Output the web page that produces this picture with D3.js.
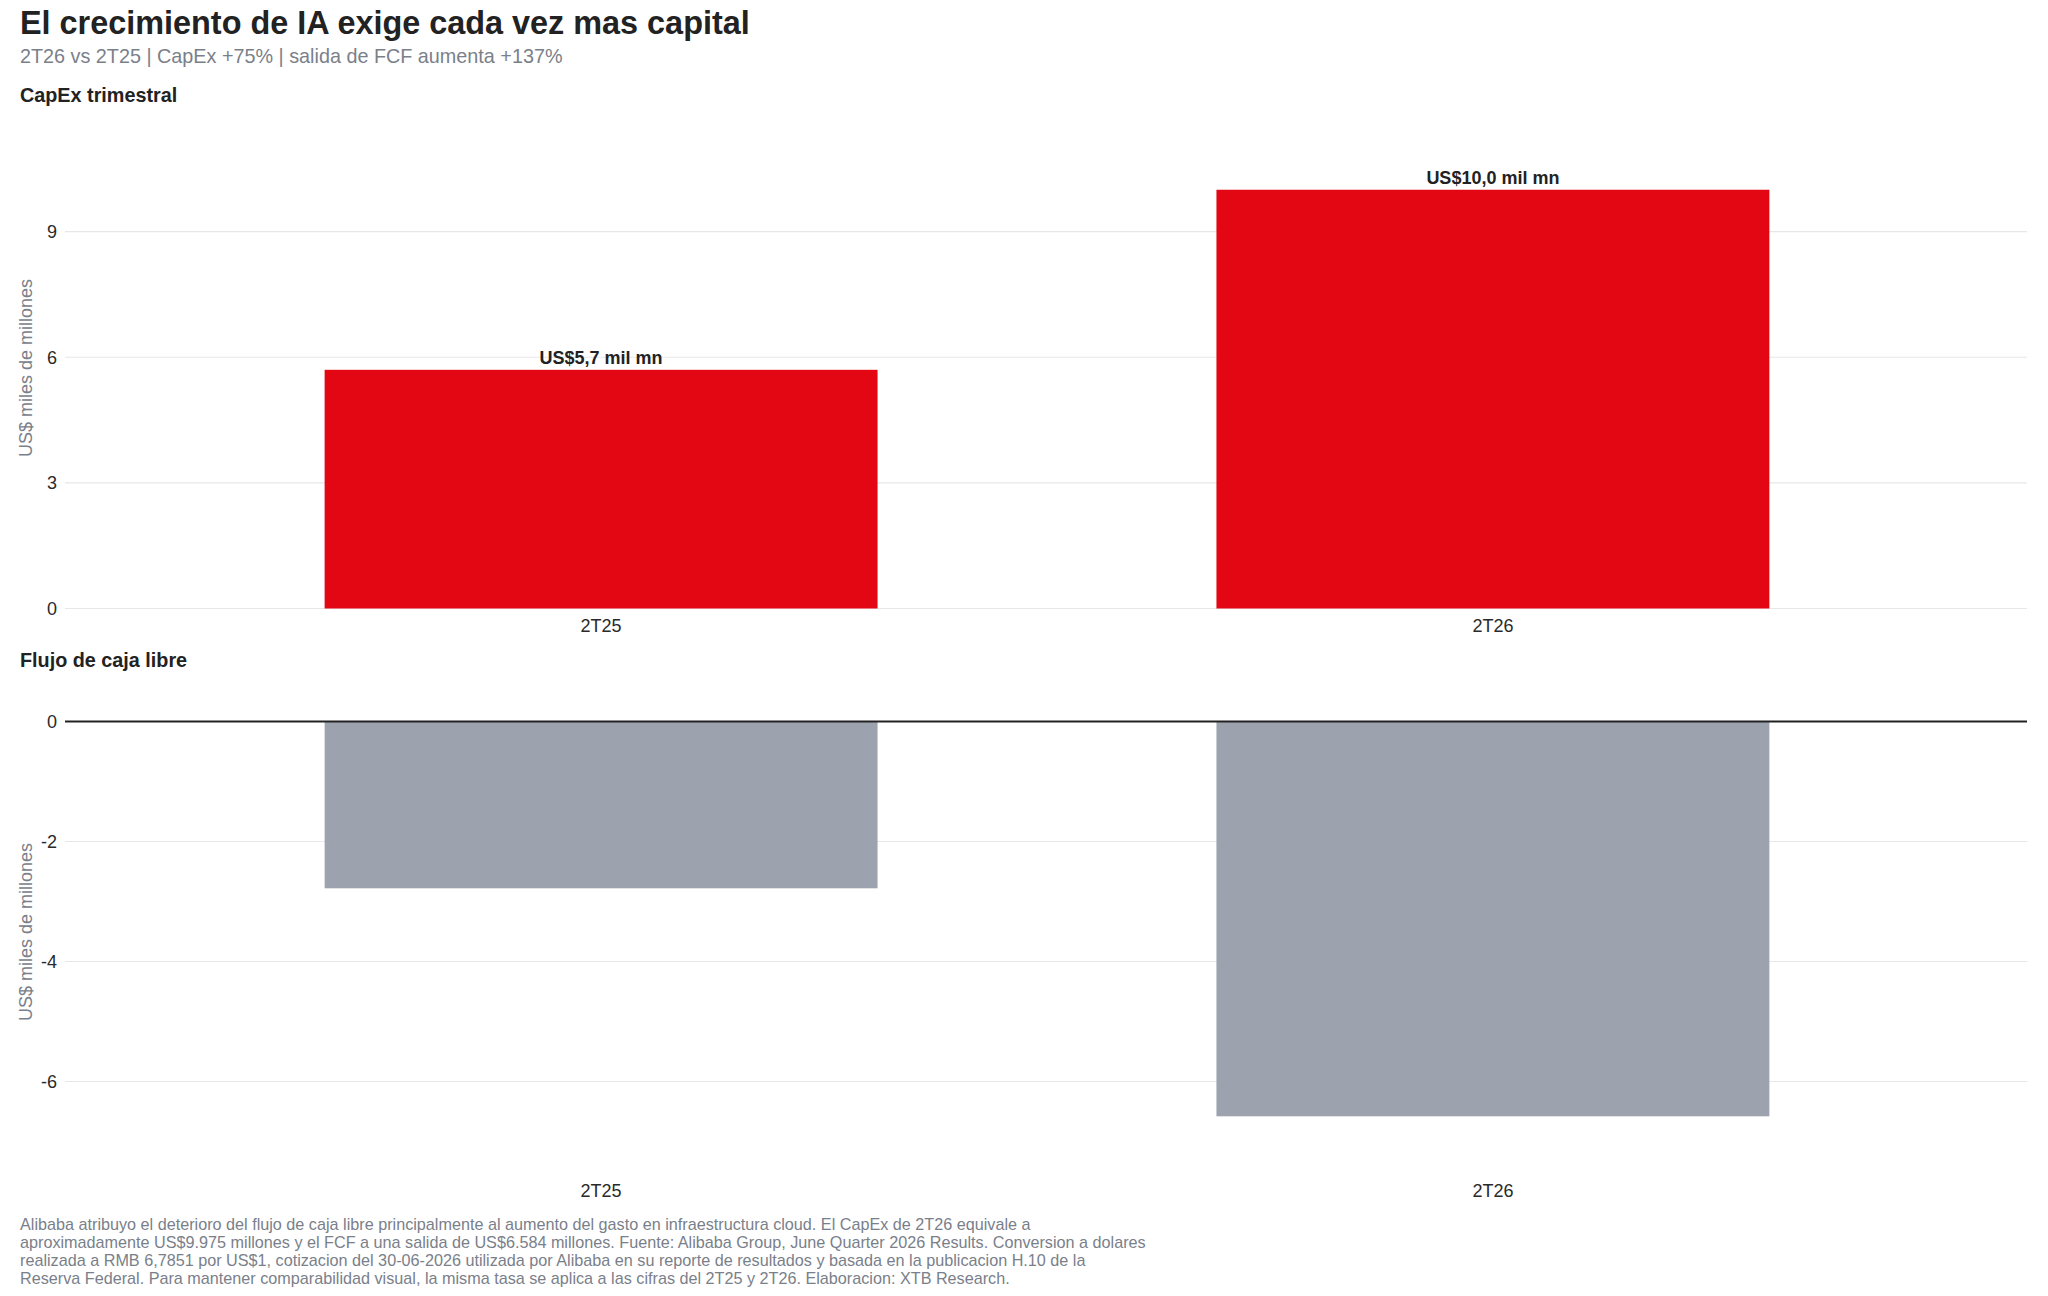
<!DOCTYPE html>
<html>
<head>
<meta charset="utf-8">
<script src="https://cdn.jsdelivr.net/npm/d3@7"></script>
<style>
  body { margin: 0; background: #fff; }
  svg { display: block; font-family: "Liberation Sans", Arial, sans-serif; }
  .grid line { stroke: #e6e7ea; stroke-width: 1.2; }
  .yaxis text, .xaxis text { fill: #2a2a2a; font-size: 18px; }
  .axistitle { fill: #7a808a; font-size: 18px; }
</style>
</head>
<body>
<div id="chart"></div>
<script>
const categories = ["2T25", "2T26"];
const capexValues = [5.7, 10.0];
const capexLabels = ["US$5,7 mil mn", "US$10,0 mil mn"];
const fcfValues = [-2.78, -6.58];
const capexTicks = [0, 3, 6, 9];
const fcfTicks = [0, -2, -4, -6];

const title = "El crecimiento de IA exige cada vez mas capital";
const subtitle = "2T26 vs 2T25 | CapEx +75% | salida de FCF aumenta +137%";
const yTitle = "US$ miles de millones";
const footnote = [
  "Alibaba atribuyo el deterioro del flujo de caja libre principalmente al aumento del gasto en infraestructura cloud. El CapEx de 2T26 equivale a",
  "aproximadamente US$9.975 millones y el FCF a una salida de US$6.584 millones. Fuente: Alibaba Group, June Quarter 2026 Results. Conversion a dolares",
  "realizada a RMB 6,7851 por US$1, cotizacion del 30-06-2026 utilizada por Alibaba en su reporte de resultados y basada en la publicacion H.10 de la",
  "Reserva Federal. Para mantener comparabilidad visual, la misma tasa se aplica a las cifras del 2T25 y 2T26. Elaboracion: XTB Research.",
];

const width = 2048;
const height = 1296;
const plotLeft = 65;
const plotRight = 2027;

const svg = d3
  .select("#chart")
  .append("svg")
  .attr("width", width)
  .attr("height", height);

// header
svg.append("text").attr("x", 20).attr("y", 34)
  .attr("font-size", 32.4).attr("font-weight", "bold").attr("fill", "#222")
  .text(title);
svg.append("text").attr("x", 20).attr("y", 63)
  .attr("font-size", 19.8).attr("fill", "#7a808a")
  .text(subtitle);

const xScale = d3.scaleBand()
  .domain(categories)
  .range([plotLeft + 1, plotRight + 1])
  .paddingInner(0.38)
  .paddingOuter(0.29);

const drawPanel = ({ name, values, ticks, domain, range, color, labels, titleY, xLabelY, yTitleShift, zeroLine }) => {
  const yScale = d3.scaleLinear().domain(domain).range(range);
  const g = svg.append("g");

  g.append("text").attr("x", 20).attr("y", titleY)
    .attr("font-size", 19.8).attr("font-weight", "bold").attr("fill", "#222")
    .text(name);

  g.append("g").attr("class", "grid")
    .selectAll("line")
    .data(ticks)
    .enter()
    .append("line")
    .attr("x1", plotLeft).attr("x2", plotRight)
    .attr("y1", (d) => yScale(d)).attr("y2", (d) => yScale(d));

  // plain hyphen for negatives, like the original
  g.append("g")
    .attr("class", "yaxis")
    .attr("transform", `translate(${plotLeft - 8},0)`)
    .call(d3.axisLeft(yScale).tickValues(ticks).tickSize(0).tickPadding(0).tickFormat((d) => String(d)))
    .call((a) => a.select(".domain").remove());

  g.append("text")
    .attr("class", "axistitle")
    .attr("transform", `translate(32,${(range[0] + range[1]) / 2 + yTitleShift}) rotate(-90)`)
    .attr("text-anchor", "middle")
    .text(yTitle);

  g.append("g")
    .selectAll("rect")
    .data(values)
    .enter()
    .append("rect")
    .attr("x", (d, i) => xScale(categories[i]))
    .attr("width", xScale.bandwidth())
    .attr("y", (d) => yScale(Math.max(0, d)))
    .attr("height", (d) => Math.abs(yScale(d) - yScale(0)))
    .attr("fill", color);

  if (zeroLine) {
    g.append("line")
      .attr("x1", plotLeft).attr("x2", plotRight)
      .attr("y1", yScale(0)).attr("y2", yScale(0))
      .attr("stroke", "#222").attr("stroke-width", 2);
  }

  if (labels) {
    g.append("g")
      .selectAll("text")
      .data(values)
      .enter()
      .append("text")
      .attr("x", (d, i) => xScale(categories[i]) + xScale.bandwidth() / 2)
      .attr("y", (d) => yScale(d) - 6)
      .attr("text-anchor", "middle")
      .attr("font-size", 18).attr("font-weight", "bold").attr("fill", "#222")
      .text((d, i) => labels[i]);
  }

  g.append("g")
    .attr("class", "xaxis")
    .attr("transform", `translate(0,${xLabelY})`)
    .call(d3.axisBottom(xScale).tickSize(0).tickPadding(0))
    .call((a) => a.select(".domain").remove());
};

drawPanel({
  name: "CapEx trimestral",
  values: capexValues,
  ticks: capexTicks,
  domain: [0, 11.2],
  range: [608.5, 139.5],
  color: "#e30613",
  labels: capexLabels,
  titleY: 102,
  xLabelY: 619,
  yTitleShift: -6,
  zeroLine: false,
});

drawPanel({
  name: "Flujo de caja libre",
  values: fcfValues,
  ticks: fcfTicks,
  domain: [-7.5, 0.35],
  range: [1171.5, 700.5],
  color: "#9ca3ae",
  labels: null,
  titleY: 667,
  xLabelY: 1184,
  yTitleShift: -4,
  zeroLine: true,
});

// footnote
svg.append("g")
  .selectAll("text")
  .data(footnote)
  .enter()
  .append("text")
  .attr("x", 20)
  .attr("y", (d, i) => 1230 + i * 18)
  .attr("font-size", 16.2)
  .attr("fill", "#7a808a")
  .text((d) => d);
</script>
</body>
</html>
